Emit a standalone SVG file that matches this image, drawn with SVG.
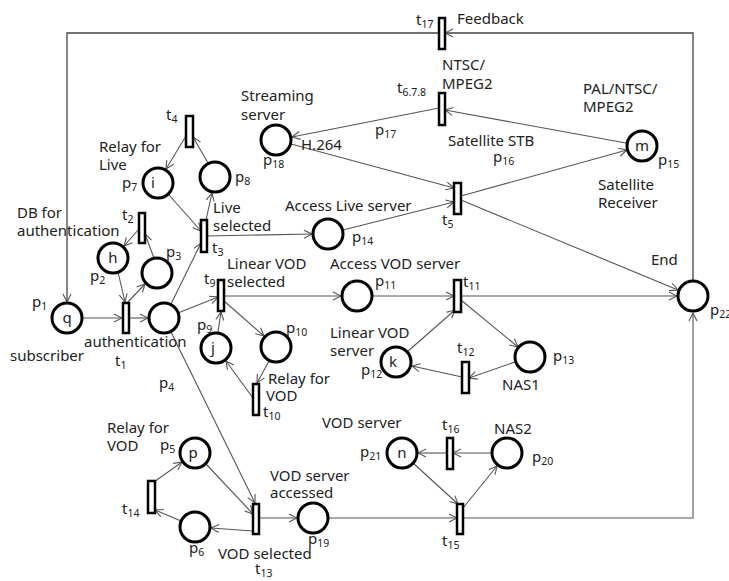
<svg xmlns="http://www.w3.org/2000/svg" width="729" height="581" viewBox="0 0 729 581">
<style>
.pl{fill:#fff;stroke:#000;stroke-width:3}
.tr{fill:#fff;stroke:#000;stroke-width:2.5}
.c{fill:none;stroke:#555;stroke-width:1.1}
.fb{fill:none;stroke:#444;stroke-width:1.3}
text{font-family:"Noto Sans","DejaVu Sans",sans-serif;font-size:15px;fill:#222}
.s{font-size:10.5px}
.in{font-size:15px;text-anchor:middle}
</style>
<defs>
<marker id="a" markerWidth="10" markerHeight="10" refX="9" refY="5" orient="auto" markerUnits="userSpaceOnUse">
<path d="M1,1 L9,5 L1,9" fill="none" stroke="#555" stroke-width="1.1"/>
</marker>
</defs>
<rect width="729" height="581" fill="#fff"/>
<g id="connectors">
<path class="c" marker-end="url(#a)" d="M82,318 L122,318"/>
<path class="c" marker-end="url(#a)" d="M129,318 L148,318"/>
<path class="c" marker-end="url(#a)" d="M127,303 L145,284"/>
<path class="c" marker-end="url(#a)" d="M118,272 L125,302"/>
<path class="c" marker-end="url(#a)" d="M154,258 L145,234"/>
<path class="c" marker-end="url(#a)" d="M139,229 L124,246"/>
<path class="c" marker-end="url(#a)" d="M171,304 L201,243"/>
<path class="c" marker-end="url(#a)" d="M169,195 L201,231"/>
<path class="c" marker-end="url(#a)" d="M206,220 L212,193"/>
<path class="c" marker-end="url(#a)" d="M207,236 L312,234"/>
<path class="c" marker-end="url(#a)" d="M208,163 L193,137"/>
<path class="c" marker-end="url(#a)" d="M186,136 L166,169"/>
<path class="c" marker-end="url(#a)" d="M178,313 L218,297"/>
<path class="c" marker-end="url(#a)" d="M224,296 L341,296"/>
<path class="c" marker-end="url(#a)" d="M218,332 L221,312"/>
<path class="c" marker-end="url(#a)" d="M224,301 L264,336"/>
<path class="c" marker-end="url(#a)" d="M269,361 L257,383"/>
<path class="c" marker-end="url(#a)" d="M253,398 L226,361"/>
<path class="c" marker-end="url(#a)" d="M171,332 L255,503"/>
<path class="c" marker-end="url(#a)" d="M206,464 L253,514"/>
<path class="c" marker-end="url(#a)" d="M253,531 L211,528"/>
<path class="c" marker-end="url(#a)" d="M154,482 L182,462"/>
<path class="c" marker-end="url(#a)" d="M181,521 L155,510"/>
<path class="c" marker-end="url(#a)" d="M259,518 L297,518"/>
<path class="c" marker-end="url(#a)" d="M329,518 L457,518"/>
<path class="c" marker-end="url(#a)" d="M413,463 L458,504"/>
<path class="c" marker-end="url(#a)" d="M463,508 L497,466"/>
<path class="c" marker-end="url(#a)" d="M492,453 L453,453"/>
<path class="c" marker-end="url(#a)" d="M447,453 L418,453"/>
<path class="c" marker-end="url(#a)" d="M463,518 L693,518 L693,313"/>
<path class="c" marker-end="url(#a)" d="M461,296 L677,296"/>
<path class="c" marker-end="url(#a)" d="M372,296 L454,296"/>
<path class="c" marker-end="url(#a)" d="M407,352 L455,310"/>
<path class="c" marker-end="url(#a)" d="M461,300 L518,347"/>
<path class="c" marker-end="url(#a)" d="M515,362 L469,378"/>
<path class="c" marker-end="url(#a)" d="M462,377 L412,366"/>
<path class="c" marker-end="url(#a)" d="M343,230 L454,202"/>
<path class="c" marker-end="url(#a)" d="M291,144 L454,188"/>
<path class="c" marker-end="url(#a)" d="M461,196 L627,150"/>
<path class="c" marker-end="url(#a)" d="M461,200 L678,290"/>
<path class="c" marker-end="url(#a)" d="M626,143 L445,110"/>
<path class="c" marker-end="url(#a)" d="M439,108 L292,137"/>
<path class="fb" marker-end="url(#a)" d="M693,281 L693,33 L445,33"/>
<path class="fb" marker-end="url(#a)" d="M439,33 L67,33 L67,302"/>
</g>
<g id="p1"><circle class="pl" cx="67" cy="318" r="15"/><text class="in" x="67" y="323">q</text><text x="32" y="307">p<tspan class="s" dy="3">1</tspan></text><text x="10" y="361">subscriber</text></g>
<g id="p2"><circle class="pl" cx="113" cy="258" r="15"/><text class="in" x="113" y="263">h</text><text x="90" y="281">p<tspan class="s" dy="3">2</tspan></text><text x="17" y="218">DB for<tspan x="17" dy="18">authentication</tspan></text></g>
<g id="p3"><circle class="pl" cx="157" cy="273" r="15"/><text x="166" y="257">p<tspan class="s" dy="3">3</tspan></text></g>
<g id="p4"><circle class="pl" cx="164" cy="318" r="15"/><text x="159" y="388">p<tspan class="s" dy="3">4</tspan></text></g>
<g id="p7"><circle class="pl" cx="158" cy="183" r="15"/><text class="in" x="153" y="188">i</text><text x="122" y="188">p<tspan class="s" dy="3">7</tspan></text><text x="99" y="152">Relay for<tspan x="99" dy="18">Live</tspan></text></g>
<g id="p8"><circle class="pl" cx="215" cy="177" r="15"/><text x="235" y="182">p<tspan class="s" dy="3">8</tspan></text></g>
<g id="p9"><circle class="pl" cx="216" cy="348" r="15"/><text class="in" x="213" y="353">j</text><text x="197" y="330">p<tspan class="s" dy="3">9</tspan></text></g>
<g id="p10"><circle class="pl" cx="276" cy="347" r="15"/><text x="286" y="333">p<tspan class="s" dy="3">10</tspan></text></g>
<g id="p11"><circle class="pl" cx="357" cy="296" r="15"/><text x="375" y="286">p<tspan class="s" dy="3">11</tspan></text><text x="330" y="269">Access VOD server</text></g>
<g id="p12"><circle class="pl" cx="396" cy="362" r="15"/><text class="in" x="393" y="367">k</text><text x="361" y="375">p<tspan class="s" dy="3">12</tspan></text><text x="330" y="338">Linear VOD<tspan x="330" dy="18">server</tspan></text></g>
<g id="p13"><circle class="pl" cx="530" cy="357" r="15"/><text x="553" y="361">p<tspan class="s" dy="3">13</tspan></text><text x="502" y="390">NAS1</text></g>
<g id="p14"><circle class="pl" cx="328" cy="234" r="15"/><text x="352" y="242">p<tspan class="s" dy="3">14</tspan></text><text x="285" y="211">Access Live server</text></g>
<g id="p15"><circle class="pl" cx="642" cy="146" r="15"/><text class="in" x="642" y="151">m</text><text x="658" y="165">p<tspan class="s" dy="3">15</tspan></text><text x="583" y="94">PAL/NTSC/<tspan x="583" dy="18">MPEG2</tspan></text><text x="598" y="190">Satellite<tspan x="598" dy="18">Receiver</tspan></text></g>
<g id="p16"><text x="448" y="146">Satellite STB</text><text x="493" y="162">p<tspan class="s" dy="3">16</tspan></text></g>
<g id="p17"><text x="375" y="135">p<tspan class="s" dy="3">17</tspan></text></g>
<g id="p18"><circle class="pl" cx="276" cy="140" r="15"/><text x="263" y="165">p<tspan class="s" dy="3">18</tspan></text><text x="241" y="101">Streaming<tspan x="241" dy="19">server</tspan></text><text x="301" y="150">H.264</text></g>
<g id="p5"><circle class="pl" cx="195" cy="453" r="15"/><text class="in" x="193" y="458">p</text><text x="160" y="450">p<tspan class="s" dy="3">5</tspan></text><text x="107" y="433">Relay for<tspan x="107" dy="18">VOD</tspan></text></g>
<g id="p6"><circle class="pl" cx="195" cy="527" r="15"/><text x="189" y="553">p<tspan class="s" dy="3">6</tspan></text></g>
<g id="p19"><circle class="pl" cx="313" cy="518" r="15"/><text x="308" y="544">p<tspan class="s" dy="3">19</tspan></text><text x="270" y="481">VOD server<tspan x="270" dy="17">accessed</tspan></text></g>
<g id="p20"><circle class="pl" cx="507" cy="453" r="15"/><text x="532" y="462">p<tspan class="s" dy="3">20</tspan></text><text x="494" y="434">NAS2</text></g>
<g id="p21"><circle class="pl" cx="402" cy="453" r="15"/><text class="in" x="402" y="458">n</text><text x="360" y="457">p<tspan class="s" dy="3">21</tspan></text><text x="322" y="428">VOD server</text></g>
<g id="p22"><circle class="pl" cx="693" cy="296" r="15"/><text x="710" y="315">p<tspan class="s" dy="3">22</tspan></text><text x="651" y="265">End</text></g>
<g id="t1"><rect class="tr" x="123" y="303" width="6" height="30"/><text x="84" y="347">authentication</text><text x="115" y="366">t<tspan class="s" dy="3">1</tspan></text></g>
<g id="t2"><rect class="tr" x="139" y="213" width="6" height="30"/><text x="122" y="220">t<tspan class="s" dy="3">2</tspan></text></g>
<g id="t3"><rect class="tr" x="201" y="220" width="6" height="32"/><text x="212" y="253">t<tspan class="s" dy="3">3</tspan></text><text x="213" y="213">Live<tspan x="213" dy="18">selected</tspan></text></g>
<g id="t4"><rect class="tr" x="186" y="116" width="7" height="31"/><text x="166" y="120">t<tspan class="s" dy="3">4</tspan></text></g>
<g id="t5"><rect class="tr" x="454" y="183" width="7" height="31"/><text x="442" y="225">t<tspan class="s" dy="3">5</tspan></text></g>
<g id="t678"><rect class="tr" x="439" y="93" width="6" height="32"/><text x="397" y="93">t<tspan class="s" dy="3">6.7.8</tspan></text><text x="442" y="70">NTSC/<tspan x="442" dy="19">MPEG2</tspan></text></g>
<g id="t9"><rect class="tr" x="218" y="280" width="6" height="31"/><text x="204" y="284">t<tspan class="s" dy="3">9</tspan></text><text x="227" y="269">Linear VOD<tspan x="227" dy="18">selected</tspan></text></g>
<g id="t10"><rect class="tr" x="253" y="384" width="6" height="31"/><text x="263" y="417">t<tspan class="s" dy="3">10</tspan></text><text x="268" y="384">Relay for<tspan x="266" dy="17">VOD</tspan></text></g>
<g id="t11"><rect class="tr" x="454" y="280" width="7" height="32"/><text x="463" y="287">t<tspan class="s" dy="3">11</tspan></text></g>
<g id="t12"><rect class="tr" x="462" y="362" width="7" height="31"/><text x="457" y="353">t<tspan class="s" dy="3">12</tspan></text></g>
<g id="t13"><rect class="tr" x="253" y="504" width="6" height="30"/><text x="255" y="574">t<tspan class="s" dy="3">13</tspan></text><text x="218" y="559">VOD selected</text></g>
<g id="t14"><rect class="tr" x="148" y="481" width="7" height="32"/><text x="122" y="514">t<tspan class="s" dy="3">14</tspan></text></g>
<g id="t15"><rect class="tr" x="457" y="504" width="6" height="30"/><text x="442" y="546">t<tspan class="s" dy="3">15</tspan></text></g>
<g id="t16"><rect class="tr" x="447" y="438" width="6" height="31"/><text x="442" y="430">t<tspan class="s" dy="3">16</tspan></text></g>
<g id="t17"><rect class="tr" x="439" y="18" width="6" height="31"/><text x="416" y="25">t<tspan class="s" dy="3">17</tspan></text><text x="457" y="24">Feedback</text></g>
</svg>
